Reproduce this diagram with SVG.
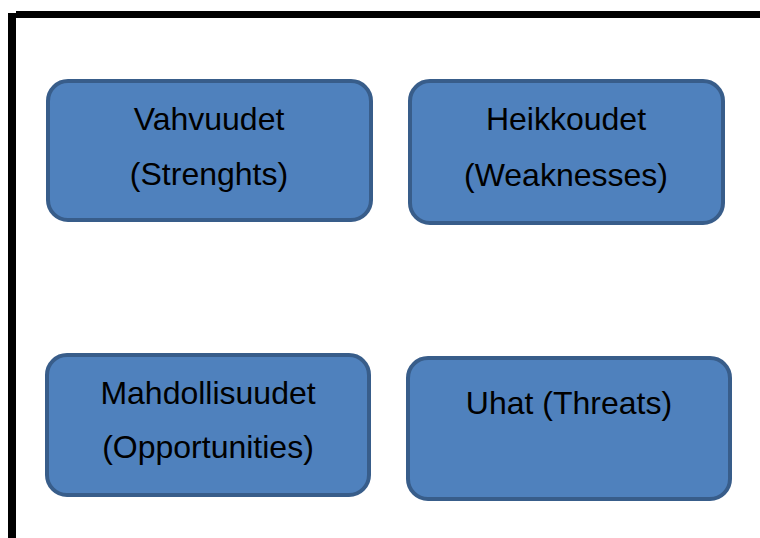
<svg xmlns="http://www.w3.org/2000/svg" width="760" height="538" viewBox="0 0 760 538">
<style>
.box{fill:#4F81BD;stroke:#385D8A;stroke-width:4}
.t{font-family:"Liberation Sans",Arial,sans-serif;font-size:32px;fill:#000;text-anchor:middle}
</style>
<rect width="760" height="538" fill="#fff"/>
<g id="frame">
<rect x="16" y="11" width="744" height="7" fill="#000"/>
<rect x="8" y="13" width="8" height="525" fill="#000"/>
</g>
<g id="strengths">
<rect class="box" x="48" y="81" width="323" height="139" rx="20"/>
<text class="t" x="209" y="130">Vahvuudet</text>
<text class="t" x="209" y="185">(Strenghts)</text>
</g>
<g id="weaknesses">
<rect class="box" x="410" y="81" width="313" height="142" rx="20"/>
<text class="t" x="566" y="130">Heikkoudet</text>
<text class="t" x="566" y="186">(Weaknesses)</text>
</g>
<g id="opportunities">
<rect class="box" x="47" y="355" width="322" height="140" rx="20"/>
<text class="t" x="208" y="404">Mahdollisuudet</text>
<text class="t" x="208" y="458">(Opportunities)</text>
</g>
<g id="threats">
<rect class="box" x="408" y="358" width="322" height="141" rx="20"/>
<text class="t" x="569" y="414">Uhat (Threats)</text>
</g>
<g id="connectors"/>
</svg>
